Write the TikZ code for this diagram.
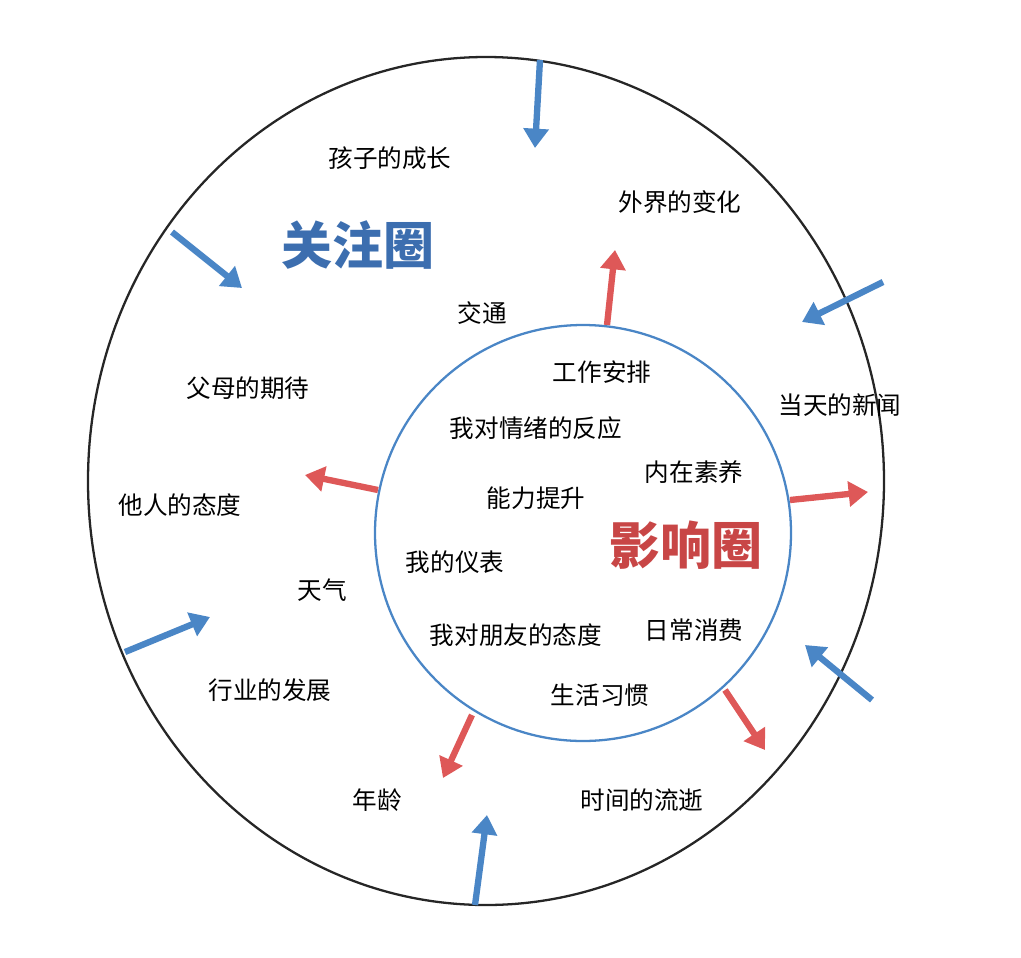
\documentclass[tikz,border=0pt]{standalone}
\usepackage{fontspec}
\newfontfamily\cjk{Noto Sans CJK SC}
\usetikzlibrary{arrows.meta}
\definecolor{cblue}{RGB}{74,134,198}
\definecolor{cred}{RGB}{222,88,88}
\definecolor{tblue}{RGB}{60,110,175}
\definecolor{tred}{RGB}{200,70,70}
\begin{document}
\begin{tikzpicture}[x=0.02cm,y=-0.02cm,
  lbl/.style={font=\cjk\fontsize{14}{16}\selectfont},
  big/.style={font=\cjk\bfseries\fontsize{29}{32}\selectfont},
  barr/.style={draw=cblue,line width=3.6pt,-{Triangle[length=11pt,width=14pt]}},
  rarr/.style={draw=cred,line width=3.6pt,-{Triangle[length=11pt,width=14pt]}}]
\useasboundingbox (0,0) rectangle (1021,957);
\draw[line width=1.3pt,black!85] (486,481) ellipse [x radius=398, y radius=424];
\draw[line width=1.3pt,cblue] (583,533) circle [radius=208];
% blue arrows
\coordinate (b1s) at (540,60); \coordinate (b1e) at (535,148);
\coordinate (b2s) at (172,232); \coordinate (b2e) at (242,288);
\coordinate (b3s) at (883,282); \coordinate (b3e) at (802,322);
\coordinate (b4s) at (125,652); \coordinate (b4e) at (210,617);
\coordinate (b5s) at (872,700); \coordinate (b5e) at (805,645);
\coordinate (b6s) at (475,905); \coordinate (b6e) at (487,815);
\foreach \i in {1,...,6} \draw[barr] (b\i s) -- (b\i e);
% red arrows
\coordinate (r1s) at (607,325); \coordinate (r1e) at (615,250);
\coordinate (r2s) at (378,490); \coordinate (r2e) at (305,475);
\coordinate (r3s) at (790,500); \coordinate (r3e) at (868,492);
\coordinate (r4s) at (472,715); \coordinate (r4e) at (443,778);
\coordinate (r5s) at (725,690); \coordinate (r5e) at (765,750);
\foreach \i in {1,...,5} \draw[rarr] (r\i s) -- (r\i e);
% outer labels
\node[lbl] (t1) at (390,158) {孩子的成长};
\node[lbl] (t2) at (680,202) {外界的变化};
\node[big,text=tblue] (gz) at (358,245) {关注圈};
\node[lbl] (t3) at (482,313) {交通};
\node[lbl] (t4) at (248,388) {父母的期待};
\node[lbl] (t5) at (840,405) {当天的新闻};
\node[lbl] (t6) at (180,505) {他人的态度};
\node[lbl] (t7) at (322,590) {天气};
\node[lbl] (t8) at (270,690) {行业的发展};
\node[lbl] (t9) at (377,800) {年龄};
\node[lbl] (t10) at (642,800) {时间的流逝};
% inner labels
\node[lbl] (i1) at (602,372) {工作安排};
\node[lbl] (i2) at (536,428) {我对情绪的反应};
\node[lbl] (i3) at (694,472) {内在素养};
\node[lbl] (i4) at (536,498) {能力提升};
\node[big,text=tred] (yx) at (686,545) {影响圈};
\node[lbl] (i5) at (455,562) {我的仪表};
\node[lbl] (i6) at (516,635) {我对朋友的态度};
\node[lbl] (i7) at (694,630) {日常消费};
\node[lbl] (i8) at (600,695) {生活习惯};
\end{tikzpicture}
\end{document}
